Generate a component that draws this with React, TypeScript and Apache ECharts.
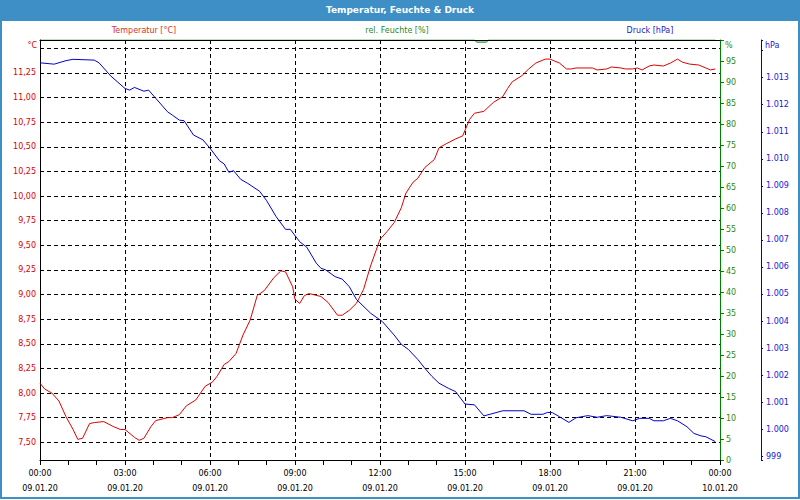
import React, { useEffect, useRef } from 'react';
import * as echarts from 'echarts';

// ---- data (time of day on 09.01.20) ----
const tempTimes = ['00:00','00:10','00:25','00:40','00:55','01:10','01:20','01:30','01:45','01:55','02:15','02:35','02:50','03:00','03:20','03:30','03:40','03:55','04:05','04:30','04:40','04:55','05:10','05:30','05:50','06:05','06:15','06:30','06:40','06:55','07:10','07:25','07:40','07:55','08:15','08:30','08:40','08:55','09:00','09:10','09:20','09:30','09:55','10:10','10:30','10:40','10:55','11:10','11:25','11:40','12:00','12:15','12:30','12:45','12:55','13:10','13:20','13:35','13:55','14:05','14:20','14:40','14:55','15:10','15:20','15:40','16:00','16:20','16:30','16:40','17:00','17:15','17:30','17:50','18:00','18:20','18:35','18:45','18:55','19:30','19:40','20:00','20:10','20:30','20:40','20:55','21:05','21:15','21:30','21:40','22:00','22:15','22:30','22:40','22:55','23:15','23:30','23:40','23:50'];
const tempValues = [8.10,8.04,8.00,7.92,7.76,7.63,7.53,7.54,7.69,7.70,7.71,7.66,7.63,7.63,7.55,7.52,7.54,7.66,7.72,7.75,7.75,7.78,7.87,7.93,8.07,8.11,8.17,8.29,8.32,8.40,8.59,8.74,8.99,9.04,9.17,9.24,9.23,9.08,8.95,8.91,8.99,9.01,8.98,8.92,8.79,8.79,8.84,8.91,9.05,9.29,9.56,9.64,9.73,9.88,10.03,10.14,10.18,10.29,10.37,10.49,10.53,10.58,10.61,10.78,10.84,10.86,10.95,11.01,11.09,11.16,11.22,11.29,11.35,11.39,11.39,11.35,11.29,11.29,11.30,11.30,11.28,11.29,11.31,11.30,11.29,11.29,11.30,11.28,11.32,11.33,11.32,11.35,11.39,11.36,11.34,11.33,11.30,11.28,11.29];

const humTimes = ['00:00','15:20','15:25','15:45','15:50','23:50'];
const humValues = [100,100,99.5,99.5,100,100];

const pressTimes = ['00:00','00:30','00:55','01:10','01:55','02:05','02:30','03:00','03:10','03:20','03:40','03:50','04:05','04:30','04:40','04:55','05:05','05:25','05:45','06:00','06:20','06:30','06:40','06:50','07:05','07:20','07:45','08:00','08:20','08:40','08:50','09:10','09:25','09:45','09:55','10:05','10:25','10:40','10:55','11:10','11:40','12:05','12:30','12:45','13:00','13:20','13:35','13:50','14:05','14:25','14:40','15:00','15:20','15:40','15:55','16:20','17:05','17:20','17:45','17:55','18:05','18:20','18:40','18:55','19:20','19:40','20:00','20:30','20:55','21:10','21:30','21:40','22:00','22:15','22:30','22:50','23:05','23:20','23:30','23:50'];
const pressValues = [1013.55,1013.50,1013.63,1013.68,1013.65,1013.55,1013.06,1012.60,1012.54,1012.64,1012.50,1012.54,1012.24,1011.74,1011.62,1011.43,1011.41,1010.88,1010.70,1010.39,1009.93,1009.81,1009.50,1009.56,1009.24,1009.09,1008.80,1008.45,1007.86,1007.39,1007.39,1006.93,1006.73,1006.14,1005.95,1005.89,1005.64,1005.55,1005.27,1004.80,1004.29,1003.98,1003.48,1003.14,1002.95,1002.58,1002.25,1001.95,1001.70,1001.51,1001.39,1000.93,1000.90,1000.49,1000.56,1000.68,1000.68,1000.55,1000.55,1000.62,1000.61,1000.46,1000.25,1000.42,1000.50,1000.44,1000.50,1000.44,1000.31,1000.40,1000.40,1000.31,1000.31,1000.40,1000.31,1000.09,999.84,999.75,999.72,999.54];

const dayLabels = ['09.01.20', '10.01.20'];
const seriesNames = ['Temperatur [°C]', 'rel. Feuchte [%]', 'Druck [hPa]'];
const unitLabels = ['°C', '%', 'hPa'];
const title = 'Temperatur, Feuchte & Druck';

const FONT = '"DejaVu Sans", sans-serif';
const RED = '#dd0000';
const GREEN = '#008000';
const BLUE = '#0000cc';
const FRAME = '#3d8fc6';

const toHours = (s: string) => {
  const [h, m] = s.split(':').map(Number);
  return h + m / 60;
};
const pairs = (times: string[], vals: number[]) => times.map((t, i) => [toHours(t), vals[i]]);

const dashed = { color: '#000', type: [4, 3] as any, width: 1 };

export default function App() {
  const ref = useRef<HTMLDivElement>(null);
  useEffect(() => {
    if (!ref.current) return;
    const chart = echarts.init(ref.current, null, { renderer: 'svg' });
    const option: any = {
      animation: false,
      backgroundColor: '#ffffff',
      textStyle: { fontFamily: FONT },
      grid: { left: 40, right: 80, top: 40, bottom: 40, containLabel: false },
      xAxis: [
        {
          type: 'value', min: 0, max: 24, interval: 3, position: 'bottom',
          axisLine: { onZero: false, lineStyle: { color: '#000', width: 1 } },
          axisTick: { show: true, length: 5, lineStyle: { color: '#000' } },
          minorTick: { show: true, splitNumber: 3, length: 5, lineStyle: { color: '#000' } },
          axisLabel: {
            fontSize: 8, color: '#000', lineHeight: 15, margin: 6, fontFamily: FONT,
            showMinLabel: true, showMaxLabel: true,
            formatter: (v: number) => {
              const h = Math.round(v);
              return `${String(h % 24).padStart(2, '0')}:00\n${h >= 24 ? dayLabels[1] : dayLabels[0]}`;
            },
          },
          splitLine: { show: true, showMinLine: false, showMaxLine: false, lineStyle: dashed },
        },
        {
          type: 'value', min: 0, max: 24, position: 'top', z: 10,
          axisLine: { show: true, onZero: false, lineStyle: { color: '#000', width: 1 } },
          axisTick: { show: false }, axisLabel: { show: false }, splitLine: { show: false },
        },
      ],
      yAxis: [
        {
          type: 'value', position: 'left', min: 7.32, max: 11.584, minInterval: 0.25, maxInterval: 0.25,
          axisLine: { show: true, onZero: false, lineStyle: { color: '#000', width: 1 } },
          axisTick: { show: false },
          axisLabel: {
            color: RED, fontSize: 8, margin: 4, fontFamily: FONT,
            formatter: (v: number) => {
              const q = v * 4;
              if (Math.abs(q - Math.round(q)) > 1e-6 || v > 11.3) return '';
              return v.toFixed(2).replace('.', ',');
            },
          },
          splitLine: { show: true, showMinLine: false, showMaxLine: false, lineStyle: dashed },
        },
        {
          type: 'value', position: 'right', min: 0, max: 100, interval: 5,
          axisLine: { show: true, onZero: false, lineStyle: { color: GREEN, width: 1 } },
          axisTick: { show: true, length: 4, lineStyle: { color: GREEN } },
          axisLabel: {
            color: '#2a8a10', fontSize: 8, margin: 6, fontFamily: FONT,
            formatter: (v: number) => (v >= 100 ? '' : String(v)),
          },
          splitLine: { show: false },
        },
        {
          type: 'value', position: 'right', offset: 41, min: 998.859, max: 1014.394, minInterval: 1, maxInterval: 1,
          axisLine: { show: true, onZero: false, lineStyle: { color: BLUE, width: 1 } },
          axisTick: { show: true, length: 2, lineStyle: { color: BLUE } },
          axisLabel: {
            color: '#2020d0', fontSize: 8, margin: 5, fontFamily: FONT,
            formatter: (v: number) => {
              const r = Math.round(v);
              if (Math.abs(v - r) > 1e-6 || r > 1013) return '';
              return r >= 1000 ? `${Math.floor(r / 1000)}.${String(r % 1000).padStart(3, '0')}` : String(r);
            },
          },
          splitLine: { show: false },
        },
      ],
      series: [
        {
          type: 'line', name: seriesNames[1], xAxisIndex: 0, yAxisIndex: 1,
          data: pairs(humTimes, humValues), symbol: 'none', showSymbol: false,
          lineStyle: { color: GREEN, width: 1 }, itemStyle: { color: GREEN },
        },
        {
          type: 'line', name: seriesNames[0], xAxisIndex: 0, yAxisIndex: 0,
          data: pairs(tempTimes, tempValues), symbol: 'none', showSymbol: false,
          lineStyle: { color: RED, width: 1 }, itemStyle: { color: RED },
        },
        {
          type: 'line', name: seriesNames[2], xAxisIndex: 0, yAxisIndex: 2,
          data: pairs(pressTimes, pressValues), symbol: 'none', showSymbol: false,
          lineStyle: { color: BLUE, width: 1 }, itemStyle: { color: BLUE },
        },
      ],
      graphic: [
        { type: 'rect', shape: { x: 0, y: 0, width: 800, height: 21 }, style: { fill: FRAME }, z: 0 },
        {
          type: 'text', x: 400, y: 10, z: 1,
          style: { text: title, fill: '#ffffff', font: `bold 9px ${FONT}`, align: 'center', verticalAlign: 'middle', textAlign: 'center', textVerticalAlign: 'middle' },
        },
        { type: 'rect', shape: { x: 1, y: 1, width: 798, height: 497 }, style: { fill: 'none', stroke: FRAME, lineWidth: 2 }, z: 20 },
        {
          type: 'text', x: 144, y: 30,
          style: { text: seriesNames[0], fill: '#e0301e', font: `8px ${FONT}`, align: 'center', verticalAlign: 'middle', textAlign: 'center', textVerticalAlign: 'middle' },
        },
        {
          type: 'text', x: 397, y: 30,
          style: { text: seriesNames[1], fill: '#1f8a1f', font: `8px ${FONT}`, align: 'center', verticalAlign: 'middle', textAlign: 'center', textVerticalAlign: 'middle' },
        },
        {
          type: 'text', x: 650, y: 30,
          style: { text: seriesNames[2], fill: '#2222cc', font: `8px ${FONT}`, align: 'center', verticalAlign: 'middle', textAlign: 'center', textVerticalAlign: 'middle' },
        },
        {
          type: 'text', x: 37, y: 45,
          style: { text: unitLabels[0], fill: RED, font: `8px ${FONT}`, align: 'right', verticalAlign: 'middle', textAlign: 'right', textVerticalAlign: 'middle' },
        },
        {
          type: 'text', x: 725, y: 45,
          style: { text: unitLabels[1], fill: '#2a8a10', font: `8px ${FONT}`, align: 'left', verticalAlign: 'middle', textAlign: 'left', textVerticalAlign: 'middle' },
        },
        {
          type: 'text', x: 765, y: 45,
          style: { text: unitLabels[2], fill: '#2020d0', font: `8px ${FONT}`, align: 'left', verticalAlign: 'middle', textAlign: 'left', textVerticalAlign: 'middle' },
        },
      ],
    };
    chart.setOption(option);
    return () => chart.dispose();
  }, []);
  return <div ref={ref} style={{ position: 'fixed', left: 0, top: 0, width: 800, height: 500 }} />;
}
